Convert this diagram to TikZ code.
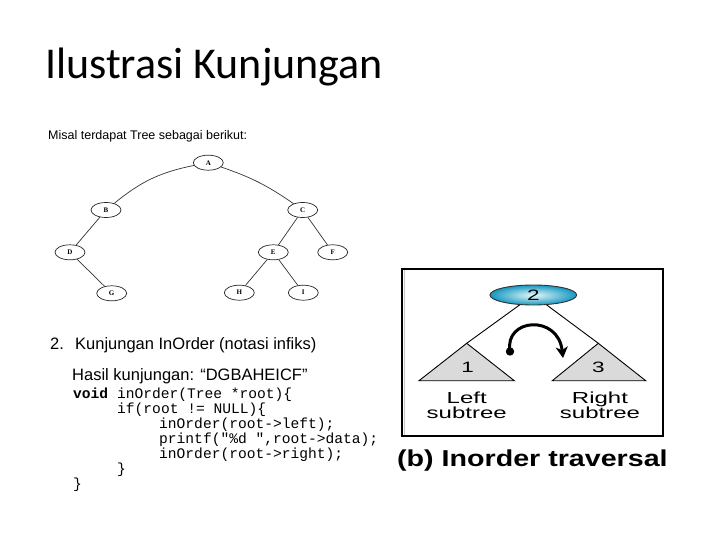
\documentclass[tikz,border=0pt]{standalone}
\usepackage{fontspec}
\setmainfont{Liberation Sans}
\setmonofont{Liberation Mono}
\newfontfamily\titlefont{Carlito}
\usetikzlibrary{arrows.meta,shapes.geometric}
\definecolor{cyanlight}{HTML}{E6F8FB}
\definecolor{cyandark}{HTML}{1597C0}
\definecolor{trigray}{HTML}{DADADA}
\tikzset{
  treenode/.style={draw=black!85,line width=0.7pt,ellipse,minimum width=30pt,minimum height=15pt,inner sep=0pt,
    font=\fontspec{Liberation Serif}\bfseries\fontsize{7}{8}\selectfont},
  treeedge/.style={draw=black!80,line width=0.7pt},
  txt/.style={anchor=base west,inner sep=0pt},
  code/.style={anchor=base west,inner sep=0pt,font=\ttfamily\fontsize{14.6}{15}\selectfont},
  lbl/.style={inner sep=0pt,font=\fontsize{16}{16}\selectfont},
  tri/.style={draw=black,line width=0.9pt,fill=trigray,line join=miter},
}
\begin{document}
\begin{tikzpicture}[x=1pt,y=-1pt]
\useasboundingbox (0,0) rectangle (720,540);
% title
\node[txt,font=\titlefont\fontsize{44}{46}\selectfont] (title) at (45,79) {Ilustrasi Kunjungan};
% left part
\node[txt,font=\fontsize{12.5}{14}\selectfont] (misal) at (48,140) {Misal terdapat Tree sebagai berikut:};
\node[treenode] (A) at (208.3,162.7) {A};
\node[treenode] (B) at (106,210) {B};
\node[treenode] (C) at (302.7,210) {C};
\node[treenode] (D) at (70,252.3) {D};
\node[treenode] (E) at (273.3,252.3) {E};
\node[treenode] (F) at (332.7,252.3) {F};
\node[treenode] (G) at (111.7,293.3) {G};
\node[treenode] (H) at (239.3,292.7) {H};
\node[treenode] (I) at (303.3,292.7) {I};
\draw[treeedge] (A) to[bend right=14] (B);
\draw[treeedge] (A) to[bend left=8] (C);
\draw[treeedge] (B) -- (D);
\draw[treeedge] (D) -- (G);
\draw[treeedge] (C) -- (E);
\draw[treeedge] (C) -- (F);
\draw[treeedge] (E) -- (H);
\draw[treeedge] (E) -- (I);
\node[txt,font=\fontsize{16.5}{18}\selectfont] (num) at (50,349) {2.};
\node[txt,font=\fontsize{16.5}{18}\selectfont] (head) at (75,349) {Kunjungan InOrder (notasi infiks)};
\node[txt,font=\fontsize{16.5}{18}\selectfont] (hasil) at (72,380) {Hasil kunjungan: “DGBAHEICF”};
\node[code] (c1) at (73,398.5) {\textbf{void} inOrder(Tree *root)\{};
\node[code] (c2) at (117,413.5) {if(root != NULL)\{};
\node[code] (c3) at (159,428.5) {inOrder(root->left);};
\node[code] (c4) at (159,443.5) {printf("\%d ",root->data);};
\node[code] (c5) at (159,458.5) {inOrder(root->right);};
\node[code] (c6) at (117,473.5) {\}};
\node[code] (c7) at (73,488) {\}};
% right part
\draw[line width=1.2pt,fill=white] (402,269) rectangle (663,436);
\draw[gray!45,line width=1.8pt] (404.5,270) -- (404.5,435);
\node[ellipse,draw=black!80,line width=0.9pt,inner color=cyanlight,outer color=cyandark,minimum width=86.7pt,minimum height=20pt,inner sep=0pt] (two) at (533.3,295) {\scalebox{1.5}[1]{\fontsize{15}{15}\selectfont 2}};
\coordinate (la) at (466.7,343.3);
\coordinate (ra) at (598.3,343.3);
\draw[tri] (la) -- (419,380.7) -- (514.3,380.7) -- cycle;
\draw[tri] (ra) -- (552.3,380.7) -- (645.7,380.7) -- cycle;
\draw[line width=0.9pt] (two) -- (la);
\draw[line width=0.9pt] (two) -- (ra);
\node[lbl] (one) at (467.7,367.5) {\scalebox{1.5}[1]{\fontsize{15}{15}\selectfont 1}};
\node[lbl] (three) at (598.3,367.5) {\scalebox{1.5}[1]{\fontsize{15}{15}\selectfont 3}};
\node[lbl,anchor=base] (left) at (466.7,403.3) {\scalebox{1.5}[1]{Left}};
\node[lbl,anchor=base] (lsub) at (466.7,418.3) {\scalebox{1.5}[1]{subtree}};
\node[lbl,anchor=base] (right) at (600,403.3) {\scalebox{1.5}[1]{Right}};
\node[lbl,anchor=base] (rsub) at (600,418.3) {\scalebox{1.5}[1]{subtree}};
\coordinate (dot) at (510,351.5);
\coordinate (tip) at (563,358);
\fill (dot) circle[radius=4.2pt];
\draw[line width=3pt,-{Stealth[length=11pt,width=12pt,inset=3pt]}] (dot) .. controls (504,318) and (558,314) .. (tip);
\node[anchor=base west,inner sep=0pt,font=\bfseries\fontsize{23}{24}\selectfont] (cap) at (397,466) {\scalebox{1.245}[1]{(b) Inorder traversal}};
\end{tikzpicture}
\end{document}
